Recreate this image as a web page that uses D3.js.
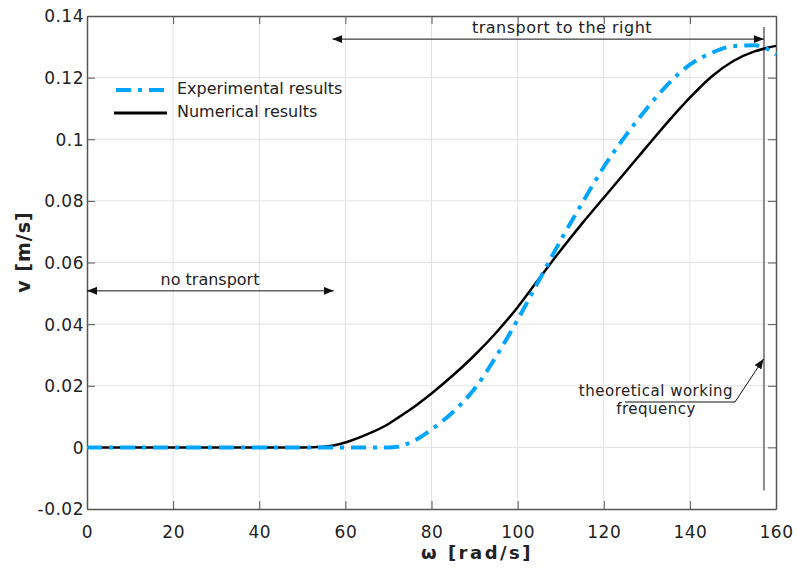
<!DOCTYPE html>
<html>
<head>
<meta charset="utf-8">
<script src="https://cdn.jsdelivr.net/npm/d3@7"></script>
<style>
  body { margin: 0; background: #fff; }
  text { font-family: "DejaVu Sans", Verdana, sans-serif; fill: #222; }
</style>
</head>
<body>
<div id="chart"></div>
<script>
// omega [rad/s] samples
var omega = [0, 5, 10, 15, 20, 25, 30, 35, 40, 45, 50, 55, 60, 65, 70, 72, 75, 80, 85, 90, 95, 100,
             105, 110, 115, 120, 125, 130, 135, 140, 145, 150, 155, 158, 160];
// measured speed v [m/s]
var experimental = [0, 0, 0, 0, 0, 0, 0, 0, 0, 0, 0, 0, 0, 0, 0, 0.0002, 0.0015, 0.0058, 0.0115, 0.019, 0.0295, 0.0414,
                    0.0543, 0.0672, 0.0793, 0.091, 0.101, 0.11, 0.118, 0.1242, 0.128, 0.1302, 0.1305, 0.1293, 0.1275];
// simulated speed v [m/s]
var numerical = [0, 0, 0, 0, 0, 0, 0, 0, 0, 0, 0, 0.0002, 0.0016, 0.0042, 0.0076, 0.0094, 0.0122, 0.0175, 0.0234, 0.0299, 0.0372, 0.0455,
                 0.0548, 0.064, 0.0727, 0.081, 0.0893, 0.0976, 0.1058, 0.1135, 0.1203, 0.1253, 0.1285, 0.1297, 0.1303];

var xTicks = [0, 20, 40, 60, 80, 100, 120, 140, 160];
var yTicks = [-0.02, 0, 0.02, 0.04, 0.06, 0.08, 0.1, 0.12, 0.14];
var yTickLabels = ["-0.02", "0", "0.02", "0.04", "0.06", "0.08", "0.1", "0.12", "0.14"];
var seriesNames = ["Experimental results", "Numerical results"];

var width = 797, height = 568;
var x = d3.scaleLinear().domain([0, 160]).range([87, 776]);
var y = d3.scaleLinear().domain([-0.02, 0.14]).range([509, 16]);

var svg = d3.select("#chart").append("svg")
    .attr("width", width)
    .attr("height", height);

svg.append("rect").attr("width", width).attr("height", height).attr("fill", "#fff");

// arrow heads
var defs = svg.append("defs");
defs.append("marker")
    .attr("id", "head")
    .attr("viewBox", "0 0 10 8")
    .attr("refX", 10).attr("refY", 4)
    .attr("markerWidth", 10).attr("markerHeight", 8)
    .attr("markerUnits", "userSpaceOnUse")
    .attr("orient", "auto-start-reverse")
  .append("path")
    .attr("d", "M0,0 L10,4 L0,8 Z")
    .attr("fill", "#111");

// grid
svg.append("g").selectAll("line").data(xTicks.slice(1, -1)).enter().append("line")
    .attr("x1", d => x(d)).attr("x2", d => x(d))
    .attr("y1", y.range()[0]).attr("y2", y.range()[1])
    .attr("stroke", "#e2e2e2").attr("stroke-width", 1);
svg.append("g").selectAll("line").data(yTicks.slice(1, -1)).enter().append("line")
    .attr("y1", d => y(d)).attr("y2", d => y(d))
    .attr("x1", x.range()[0]).attr("x2", x.range()[1])
    .attr("stroke", "#e2e2e2").attr("stroke-width", 1);

// axes (inward ticks on all four sides)
var axisColor = "#555";
var gb = svg.append("g").attr("transform", "translate(0," + y(-0.02) + ")")
    .call(d3.axisBottom(x).tickValues(xTicks).tickSizeInner(-8).tickSizeOuter(0).tickPadding(17));
var gt = svg.append("g").attr("transform", "translate(0," + y(0.14) + ")")
    .call(d3.axisTop(x).tickValues(xTicks).tickSizeInner(-8).tickSizeOuter(0).tickFormat(""));
var gl = svg.append("g").attr("transform", "translate(" + x(0) + ",0)")
    .call(d3.axisLeft(y).tickValues(yTicks).tickSizeInner(-8).tickSizeOuter(0).tickPadding(3)
      .tickFormat((d, i) => yTickLabels[i]));
var gr = svg.append("g").attr("transform", "translate(" + x(160) + ",0)")
    .call(d3.axisRight(y).tickValues(yTicks).tickSizeInner(-8).tickSizeOuter(0).tickFormat(""));
[gb, gt, gl, gr].forEach(function(g) {
  g.select(".domain").attr("stroke", axisColor).attr("stroke-width", 1.5);
  g.selectAll(".tick line").attr("stroke", axisColor).attr("stroke-width", 1);
  g.selectAll(".tick text").attr("fill", "#333").style("font-size", "17px")
    .style("letter-spacing", "0.5px")
    .style("font-family", "'DejaVu Sans', Verdana, sans-serif");
});
gl.selectAll(".tick text").attr("dy", "0.35em");

// theoretical working frequency line
svg.append("line")
    .attr("x1", x(157.2)).attr("x2", x(157.2))
    .attr("y1", y(0.1364)).attr("y2", y(-0.014))
    .attr("stroke", "#8a8a8a").attr("stroke-width", 2);

// curves
var line = d3.line().x((d, i) => x(omega[i])).y(d => y(d)).curve(d3.curveMonotoneX);
svg.append("path").datum(numerical)
    .attr("d", line).attr("fill", "none")
    .attr("stroke", "#000").attr("stroke-width", 2.5);
svg.append("path").datum(experimental)
    .attr("d", line).attr("fill", "none")
    .attr("stroke", "#00a5ff").attr("stroke-width", 4)
    .attr("stroke-dasharray", "15,7,4,7");

// legend
var legend = svg.append("g");
legend.append("line").attr("x1", 116).attr("x2", 167).attr("y1", 90).attr("y2", 90)
    .attr("stroke", "#00a5ff").attr("stroke-width", 4).attr("stroke-dasharray", "15,7,4,7");
legend.append("line").attr("x1", 114).attr("x2", 167).attr("y1", 113).attr("y2", 113)
    .attr("stroke", "#000").attr("stroke-width", 3);
legend.selectAll("text").data(seriesNames).enter().append("text")
    .attr("x", 177).attr("y", (d, i) => 94 + i * 23)
    .style("font-size", "16px")
    .text(d => d);

// annotations
var noteFont = "16px";
svg.append("line")
    .attr("x1", x(0)).attr("x2", x(57.3))
    .attr("y1", y(0.0508)).attr("y2", y(0.0508))
    .attr("stroke", "#111").attr("stroke-width", 1)
    .attr("marker-start", "url(#head)").attr("marker-end", "url(#head)");
svg.append("text").attr("x", 210).attr("y", 285).attr("text-anchor", "middle")
    .style("font-size", noteFont).text("no transport");

svg.append("line")
    .attr("x1", x(57)).attr("x2", x(157.2))
    .attr("y1", y(0.1325)).attr("y2", y(0.1325))
    .attr("stroke", "#111").attr("stroke-width", 1)
    .attr("marker-start", "url(#head)").attr("marker-end", "url(#head)");
svg.append("text").attr("x", 562).attr("y", 33).attr("text-anchor", "middle")
    .style("font-size", noteFont).style("letter-spacing", "0.5px").text("transport to the right");

svg.append("polyline")
    .attr("points", [[625, 402], [735, 402], [x(157.1), y(0.0287)]].map(p => p.join(",")).join(" "))
    .attr("fill", "none").attr("stroke", "#111").attr("stroke-width", 1)
    .attr("marker-end", "url(#head)");
svg.append("text").attr("x", 656).attr("y", 396).attr("text-anchor", "middle")
    .style("font-size", "15px").style("letter-spacing", "0.5px").text("theoretical working");
svg.append("text").attr("x", 656).attr("y", 414).attr("text-anchor", "middle")
    .style("font-size", "15px").style("letter-spacing", "0.5px").text("frequency");

// axis titles
svg.append("text").attr("x", 477).attr("y", 559).attr("text-anchor", "middle")
    .style("font-size", "18px").style("font-weight", "bold").style("letter-spacing", "2.5px")
    .text("ω [rad/s]");
svg.append("text").attr("transform", "translate(30,252) rotate(-90)").attr("text-anchor", "middle")
    .style("font-size", "19px").style("font-weight", "bold").style("letter-spacing", "1px")
    .text("v [m/s]");
</script>
</body>
</html>
